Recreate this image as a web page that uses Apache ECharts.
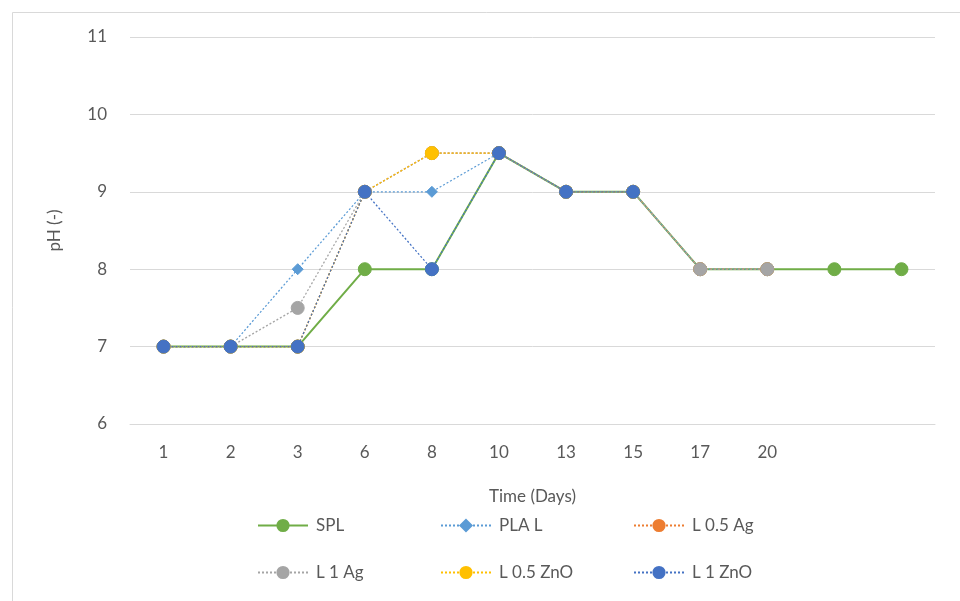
<!DOCTYPE html>
<html>
<head>
<meta charset="utf-8">
<script src="https://cdn.jsdelivr.net/npm/echarts@6/dist/echarts.min.js"></script>
<style>html,body{margin:0;padding:0;background:#fff;}#c{width:960px;height:601px;}</style>
</head>
<body>
<div id="c"></div>
<script>
const categories = ['1','2','3','6','8','10','13','15','17','20','',''];
const seriesNames = ['SPL','PLA L','L 0.5 Ag','L 1 Ag','L 0.5 ZnO','L 1 ZnO'];
const spl     = [7,7,7,8,8,9.5,9,9,8,8,8,8];
const plaL    = [7,7,8,9,9,9.5,9,9,8,8];
const l05Ag   = [7,7,7,9,9.5,9.5,9,9,8,8];
const l1Ag    = [7,7,7.5,9,9.5,9.5,9,9,8,8];
const l05ZnO  = [7,7,7,9,9.5,9.5,9,9];
const l1ZnO   = [7,7,7,9,8,9.5,9,9];
const yTicks = [6,7,8,9,10,11];

const colors = ['#70AD47','#5B9BD5','#ED7D31','#A5A5A5','#FFC000','#4472C4'];
const dataList = [spl, plaL, l05Ag, l1Ag, l05ZnO, l1ZnO];
const FONT = 'Lato';
const TXT = '#595959';
const FS = 17;

const series = dataList.map((d, i) => ({
  name: seriesNames[i],
  type: 'line',
  data: d,
  symbol: i === 1 ? 'diamond' : 'circle',
  symbolSize: i === 1 ? 11 : 13,
  showSymbol: true,
  itemStyle: { color: colors[i], borderColor: colors[i], borderWidth: 1 },
  lineStyle: { color: colors[i], width: i === 0 ? 2 : 1.25, type: i === 0 ? 'solid' : [2, 2] },
  emphasis: { disabled: true },
  animation: false,
  z: 2 + i
}));

const legendPos = [
  {left: 257, top: 517}, {left: 440, top: 517}, {left: 633, top: 517},
  {left: 257, top: 564}, {left: 440, top: 564}, {left: 633, top: 564}
];
const legends = seriesNames.map((n, i) => ({
  data: [n],
  left: legendPos[i].left,
  top: legendPos[i].top,
  padding: 0,
  itemWidth: 50,
  itemHeight: 14,
  itemGap: 0,
  textStyle: { color: TXT, fontSize: FS, fontFamily: FONT, padding: [0,0,0,3] },
  selectedMode: false
}));

const chart = echarts.init(document.getElementById('c'), null, {renderer: 'canvas'});
chart.setOption({
  backgroundColor: '#fff',
  animation: false,
  graphic: [{
    type: 'rect', left: 10, top: 10,
    shape: { width: 1000, height: 700 },
    style: { fill: 'none', stroke: '#d9d9d9', lineWidth: 1 },
    silent: true
  }],
  legend: legends,
  grid: { left: 130, right: 25, top: 37, bottom: 177 },
  xAxis: {
    type: 'category',
    data: categories,
    boundaryGap: true,
    name: 'Time (Days)',
    nameLocation: 'middle',
    nameGap: 64,
    nameTextStyle: { color: TXT, fontSize: FS, fontFamily: FONT },
    axisLine: { show: true, lineStyle: { color: '#d9d9d9', width: 1 } },
    axisTick: { show: false },
    axisLabel: { color: TXT, fontSize: FS, fontFamily: FONT, margin: 20, interval: 0 }
  },
  yAxis: {
    type: 'value',
    min: yTicks[0],
    max: yTicks[yTicks.length - 1],
    interval: 1,
    name: 'pH (-)',
    nameLocation: 'middle',
    nameGap: 67,
    nameRotate: 90,
    nameTextStyle: { color: TXT, fontSize: FS, fontFamily: FONT },
    axisLine: { show: false },
    axisTick: { show: false },
    axisLabel: { color: TXT, fontSize: FS, fontFamily: FONT, margin: 23 },
    splitLine: { lineStyle: { color: '#d9d9d9', width: 1 } }
  },
  series: series
});
</script>
</body>
</html>
